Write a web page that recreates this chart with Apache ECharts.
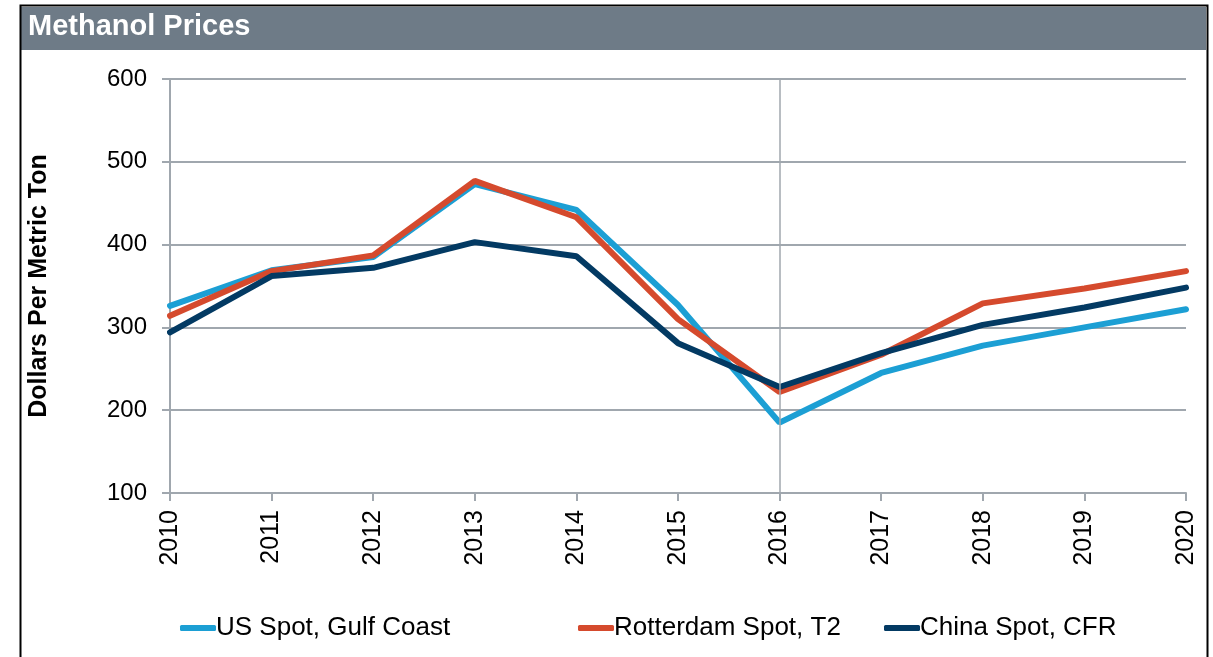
<!DOCTYPE html>
<html>
<head>
<meta charset="utf-8">
<title>Methanol Prices</title>
<script src="https://cdn.jsdelivr.net/npm/echarts@6/dist/echarts.min.js"></script>
<style>
  html, body { margin: 0; padding: 0; background: #fff; }
  #chart { width: 1213px; height: 657px; }
</style>
</head>
<body>
<div id="chart"></div>
<script>
  var years = ['2010', '2011', '2012', '2013', '2014', '2015', '2016', '2017', '2018', '2019', '2020']
  var usGulf = [326, 369, 385, 473, 442, 327, 185, 245, 278, 300, 322]
  var rotterdam = [314, 368, 387, 477, 433, 310, 222, 267, 329, 347, 368]
  var china = [294, 362, 372, 403, 386, 281, 228, 269, 303, 324, 348]
  var yTicks = [100, 200, 300, 400, 500, 600]

  var font = 'Arial, "Liberation Sans", sans-serif'
  var chart = echarts.init(document.getElementById('chart'))

  function legendAt(name, left) {
    return {
      data: [name],
      left: left,
      top: 615,
      padding: 0,
      icon: 'roundRect',
      itemWidth: 36,
      itemHeight: 6,
      itemGap: 0,
      textStyle: { fontFamily: font, fontSize: 26, color: '#000', padding: [0, 0, 0, -5] }
    }
  }

  function line(name, data, color) {
    return {
      name: name,
      type: 'line',
      data: data,
      symbol: 'none',
      lineStyle: { color: color, width: 6, cap: 'round' },
      itemStyle: { color: color },
      animation: false
    }
  }

  chart.setOption({
    animation: false,
    graphic: [
      { type: 'rect', shape: { x: 20.5, y: 5.5, width: 1187, height: 700 }, style: { fill: 'none', stroke: '#000', lineWidth: 2 }, z: 10 },
      { type: 'rect', shape: { x: 21, y: 7, width: 1185, height: 43 }, style: { fill: '#6e7b87' }, z: 5 },
      { type: 'text', left: 28, top: 12, style: { text: 'Methanol Prices', fill: '#fff', font: 'bold 29px ' + font }, z: 6 }
    ],
    legend: [
      legendAt('US Spot, Gulf Coast', 180),
      legendAt('Rotterdam Spot, T2', 578),
      legendAt('China Spot, CFR', 884)
    ],
    grid: { left: 170, right: 27, top: 79, bottom: 164 },
    xAxis: {
      type: 'category',
      data: years,
      boundaryGap: false,
      axisLine: { lineStyle: { color: '#a0a7ae', width: 2 } },
      axisTick: { show: true, length: 8, lineStyle: { color: '#a0a7ae', width: 2 } },
      axisLabel: { rotate: 90, fontFamily: font, fontSize: 25, color: '#000', margin: 17 },
      splitLine: { show: false }
    },
    yAxis: {
      type: 'value',
      min: yTicks[0],
      max: yTicks[yTicks.length - 1],
      interval: 100,
      name: 'Dollars Per Metric Ton',
      nameLocation: 'middle',
      nameGap: 118,
      nameTextStyle: { fontFamily: font, fontSize: 25, fontWeight: 'bold', color: '#000' },
      axisLine: { show: true, lineStyle: { color: '#a0a7ae', width: 2 } },
      axisTick: { show: true, length: 8, lineStyle: { color: '#a0a7ae', width: 2 } },
      axisLabel: { fontFamily: font, fontSize: 24, color: '#000', margin: 23 },
      splitLine: { lineStyle: { color: '#a0a7ae', width: 2 } }
    },
    series: [
      Object.assign(line('US Spot, Gulf Coast', usGulf, '#1c9fd4'), {
        markLine: {
          silent: true,
          symbol: 'none',
          label: { show: false },
          lineStyle: { color: '#a0a7ae', width: 1.5, type: 'solid' },
          data: [{ xAxis: '2016' }]
        },
        z: 2
      }),
      Object.assign(line('Rotterdam Spot, T2', rotterdam, '#d54a2d'), { z: 3 }),
      Object.assign(line('China Spot, CFR', china, '#033a63'), { z: 4 })
    ]
  })
</script>
</body>
</html>
